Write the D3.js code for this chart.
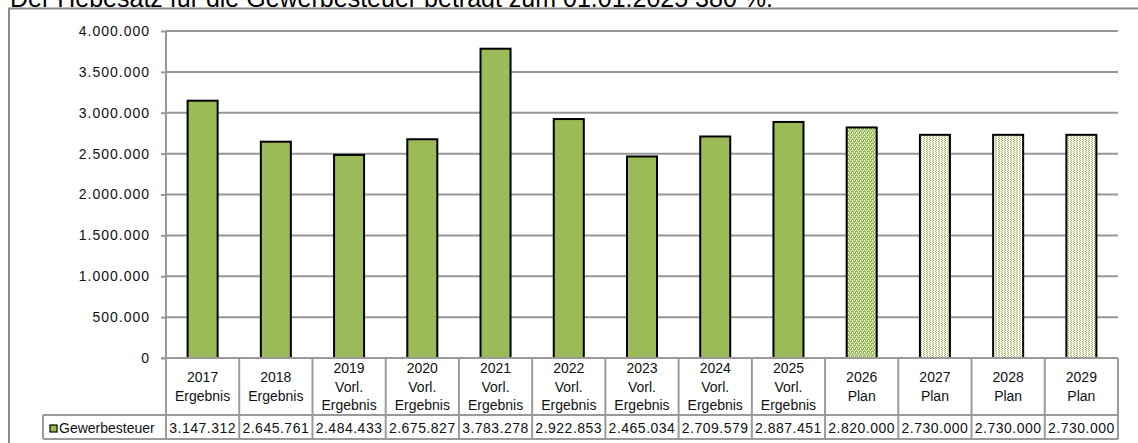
<!DOCTYPE html>
<html><head><meta charset="utf-8">
<script src="https://cdn.jsdelivr.net/npm/d3@7"></script>
<style>
  body { margin: 0; background: #fff; }
  svg { display: block; font-family: "Liberation Sans", Arial, sans-serif; }
</style>
</head><body>
<svg id="chart" width="1138" height="443"></svg>
<script>
// Gewerbesteuer (trade tax) revenue per year, results and plan figures
const title = "Der Hebesatz für die Gewerbesteuer beträgt zum 01.01.2025 380 %.";
const seriesName = "Gewerbesteuer";
const years = ["2017","2018","2019","2020","2021","2022","2023","2024","2025","2026","2027","2028","2029"];
const status = ["Ergebnis","Ergebnis","Vorl. Ergebnis","Vorl. Ergebnis","Vorl. Ergebnis","Vorl. Ergebnis",
                "Vorl. Ergebnis","Vorl. Ergebnis","Vorl. Ergebnis","Plan","Plan","Plan","Plan"];
const values = [3147312, 2645761, 2484433, 2675827, 3783278, 2922853, 2465034, 2709579, 2887451,
                2820000, 2730000, 2730000, 2730000];
const yTicks = [0, 500000, 1000000, 1500000, 2000000, 2500000, 3000000, 3500000, 4000000];

const de = d3.formatLocale({ decimal: ",", thousands: ".", grouping: [3], currency: ["", " €"] });
const fmt = de.format(",.0f");

const W = 1138, H = 443;
const plot = { left: 166, right: 1118, top: 31, bottom: 358 };
const table = { headerBottom: 415, rowBottom: 439, legendLeft: 43 };
const green = "#9bbb59";
const grid = "#979797";
const ink = "#111";

const svg = d3.select("#chart");
const defs = svg.append("defs");

// dense pattern: green with a regular grid of light dots
const pDense = defs.append("pattern").attr("id", "patDense")
  .attr("patternUnits", "userSpaceOnUse").attr("width", 4).attr("height", 4);
pDense.append("rect").attr("width", 4).attr("height", 4).attr("fill", green);
[[0,0],[2,0],[1,2],[3,2],[0,1],[2,3]].forEach(([px,py]) =>
  pDense.append("rect").attr("x", px).attr("y", py).attr("width", 1).attr("height", 1).attr("fill", "#e6efd3"));

// light pattern: white with green dots in columns
const pLight = defs.append("pattern").attr("id", "patLight")
  .attr("patternUnits", "userSpaceOnUse").attr("width", 3).attr("height", 2);
pLight.append("rect").attr("width", 3).attr("height", 2).attr("fill", "#fff");
[[0,0],[2,1]].forEach(([px,py]) =>
  pLight.append("rect").attr("x", px).attr("y", py).attr("width", 1).attr("height", 1).attr("fill", green));

// title (partly cut by the top of the page)
svg.append("text").attr("x", 10).attr("y", 7)
  .attr("font-size", 25).attr("fill", "#000").text(title);

// outer frame
svg.append("rect").attr("x", 9).attr("y", 8.5).attr("width", W + 20).attr("height", H)
  .attr("fill", "#fff").attr("stroke", "#8a8a8a").attr("stroke-width", 2);

const x = d3.scaleBand().domain(years).range([plot.left, plot.right])
  .paddingInner(0.59).paddingOuter(0.295);
const y = d3.scaleLinear().domain([0, 4000000]).range([plot.bottom, plot.top]);

// gridlines
svg.append("g").selectAll("line").data(yTicks.filter(t => t > 0)).join("line")
  .attr("x1", plot.left).attr("x2", plot.right)
  .attr("y1", d => y(d)).attr("y2", d => y(d))
  .attr("stroke", grid).attr("stroke-width", 2);

// y axis
const yAxis = svg.append("g").attr("transform", `translate(${plot.left},0)`)
  .call(d3.axisLeft(y).tickValues(yTicks).tickFormat(fmt).tickSize(5).tickPadding(11));
yAxis.select(".domain").attr("stroke", grid).attr("stroke-width", 2).attr("d", `M0,${plot.top}V${plot.bottom}`);
yAxis.selectAll(".tick line").attr("stroke", grid).attr("stroke-width", 2);
yAxis.selectAll(".tick text").attr("font-size", 14).attr("fill", ink)
  .attr("font-family", "Liberation Sans, Arial, sans-serif").style("letter-spacing", "1px");

// bars
const firstPlan = status.indexOf("Plan");
svg.append("g").selectAll("rect").data(values).join("rect")
  .attr("x", (d, i) => x(years[i]))
  .attr("y", d => y(d))
  .attr("width", x.bandwidth())
  .attr("height", d => y(0) - y(d))
  .attr("fill", (d, i) => status[i] !== "Plan" ? green : (i === firstPlan ? "url(#patDense)" : "url(#patLight)"))
  .attr("stroke", "#000").attr("stroke-width", 2);

// data table below the axis
const step = x.step();
const colLeft = i => plot.left + i * step;
const tg = svg.append("g").attr("stroke", "#9a9a9a").attr("stroke-width", 2).attr("fill", "none");
tg.append("line").attr("x1", plot.left - 5).attr("x2", plot.right).attr("y1", plot.bottom).attr("y2", plot.bottom);
tg.append("line").attr("x1", table.legendLeft).attr("x2", plot.right).attr("y1", table.headerBottom).attr("y2", table.headerBottom);
tg.append("line").attr("x1", table.legendLeft).attr("x2", plot.right).attr("y1", table.rowBottom).attr("y2", table.rowBottom);
tg.append("line").attr("x1", table.legendLeft).attr("x2", table.legendLeft).attr("y1", table.headerBottom).attr("y2", table.rowBottom);
tg.selectAll("line.col").data(d3.range(years.length + 1)).join("line").attr("class", "col")
  .attr("x1", i => colLeft(i)).attr("x2", i => colLeft(i))
  .attr("y1", plot.bottom).attr("y2", table.rowBottom);

// category headers
const lineH = 18.5;
const headMid = (plot.bottom + table.headerBottom) / 2;
years.forEach((yr, i) => {
  const lines = [yr].concat(status[i].split(" "));
  const cx = x(yr) + x.bandwidth() / 2;
  const t = svg.append("text").attr("text-anchor", "middle").attr("font-size", 14).attr("fill", ink);
  lines.forEach((ln, k) => {
    t.append("tspan").attr("x", cx)
      .attr("y", headMid + (k - (lines.length - 1) / 2) * lineH + 5)
      .text(ln);
  });
});

// value row
const rowMid = (table.headerBottom + table.rowBottom) / 2;
svg.append("g").selectAll("text").data(values).join("text")
  .attr("x", (d, i) => x(years[i]) + x.bandwidth() / 2)
  .attr("y", rowMid + 5.5)
  .attr("text-anchor", "middle").attr("font-size", 14).attr("fill", ink)
  .style("letter-spacing", "0.5px")
  .text(d => fmt(d));

// legend key in the row header
svg.append("rect").attr("x", 50).attr("y", 425).attr("width", 7).attr("height", 7)
  .attr("fill", green).attr("stroke", "#000").attr("stroke-width", 1.2);
svg.append("text").attr("x", 59).attr("y", rowMid + 5.5)
  .attr("font-size", 14).attr("fill", ink).text(seriesName);
</script>
</body></html>
